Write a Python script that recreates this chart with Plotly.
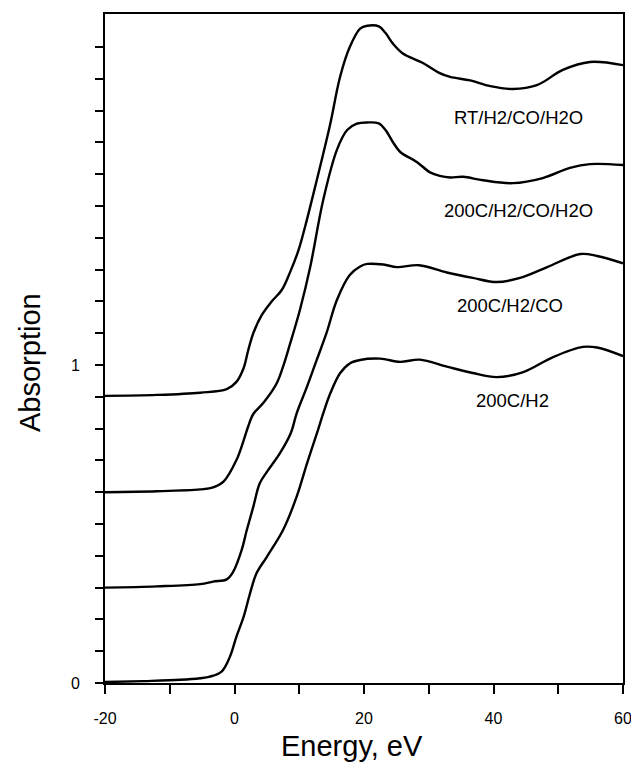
import plotly.graph_objects as go

# ---- data ----
energy_rt = [-20, -12, -5.3, -1.2, 0.3, 1.4, 2.1, 2.9, 4.2, 5.7, 7.3, 8.6, 9.9, 10.9, 11.9, 14.7,
             16.3, 17.8, 19.4, 20.5, 22.3, 23.3, 24.5, 26.0, 29.1, 31.7, 33.3, 36.4, 39.5, 43.0, 46.7,
             50.7, 54.9, 60]
abs_rt = [0.903, 0.906, 0.913, 0.924, 0.947, 0.99, 1.045, 1.10, 1.157, 1.199, 1.236, 1.293, 1.362, 1.435,
          1.515, 1.75, 1.906, 2.0, 2.058, 2.067, 2.065, 2.045, 2.010, 1.98, 1.95, 1.918, 1.906, 1.895,
          1.877, 1.868, 1.88, 1.928, 1.953, 1.943]

energy_200_h2_co_h2o = [-20, -12, -5.3, -3.3, -1.7, 0.3, 1.6, 2.1, 2.9, 4.5, 6.5, 7.5, 8.6, 10.1, 11.7,
                        13.7, 15.8, 17.4, 18.9, 20.5, 22.3, 23.3, 24.5, 25.6, 28.2, 30.2, 31.7, 33.3,
                        35.3, 38.4, 43.0, 47.6, 51.8, 54.9, 60]
abs_200_h2_co_h2o = [0.600, 0.603, 0.609, 0.615, 0.633, 0.701, 0.775, 0.806, 0.846, 0.882, 0.942, 0.995,
                     1.068, 1.173, 1.309, 1.519, 1.676, 1.739, 1.759, 1.763, 1.760, 1.740, 1.700, 1.670,
                     1.638, 1.606, 1.595, 1.590, 1.592, 1.581, 1.572, 1.588, 1.62, 1.632, 1.629]

energy_200_h2_co = [-20, -12, -5.3, -3.3, -1.2, -0.2, 1.1, 1.9, 2.9, 3.9, 5.0, 7.0, 8.7, 9.6, 11.2, 12.7,
                    14.2, 15.8, 17.8, 19.4, 20.5, 23.0, 25.1, 28.5, 32.8, 36.8, 40.5, 44.1, 48.3, 53.4,
                    56.0, 60]
abs_200_h2_co = [0.300, 0.304, 0.311, 0.319, 0.326, 0.350, 0.418, 0.481, 0.554, 0.628, 0.664, 0.722, 0.786,
                 0.848, 0.932, 1.016, 1.100, 1.204, 1.283, 1.310, 1.318, 1.316, 1.308, 1.314, 1.291, 1.274,
                 1.261, 1.274, 1.308, 1.349, 1.343, 1.32]

energy_200_h2 = [-20, -14, -8.4, -5.3, -3.8, -2.0, -0.7, 0.3, 1.4, 2.4, 3.4, 5.0, 7.5, 9.6, 11.2, 12.9,
                 13.7, 14.8, 16.3, 17.8, 19.4, 22.5, 25.6, 28.6, 32.8, 36.8, 40.5, 44.6, 49.2, 53.8, 56.0,
                 60]
abs_200_h2 = [0.003, 0.006, 0.010, 0.015, 0.020, 0.036, 0.083, 0.146, 0.208, 0.282, 0.345, 0.397, 0.481,
              0.586, 0.691, 0.796, 0.848, 0.911, 0.974, 1.005, 1.016, 1.020, 1.010, 1.017, 0.995, 0.975,
              0.962, 0.978, 1.025, 1.057, 1.055, 1.028]

series_names = ["RT/H2/CO/H2O", "200C/H2/CO/H2O", "200C/H2/CO", "200C/H2"]
series_x = [energy_rt, energy_200_h2_co_h2o, energy_200_h2_co, energy_200_h2]
series_y = [abs_rt, abs_200_h2_co_h2o, abs_200_h2_co, abs_200_h2]

label_x = [43.8, 43.8, 42.5, 42.9]
label_y = [1.777, 1.487, 1.186, 0.89]

x_title = "Energy, eV"
y_title = "Absorption"

x_tickvals = [-20, -10, 0, 10, 20, 30, 40, 50, 60]
x_ticktext = ["-20", "", "0", "", "20", "", "40", "", "60"]
y_tickvals = [round(i * 0.1, 1) for i in range(21)]
y_ticktext = ["0" if v == 0 else ("1" if v == 1.0 else "") for v in y_tickvals]

FONT = "Liberation Sans, Arial, Helvetica, sans-serif"

fig = go.Figure()
for name, xs, ys in zip(series_names, series_x, series_y):
    fig.add_trace(go.Scatter(x=xs, y=ys, mode="lines", name=name,
                             line=dict(color="black", width=2.4, shape="spline", smoothing=1.0),
                             showlegend=False, hoverinfo="skip"))

for name, lx, ly in zip(series_names, label_x, label_y):
    fig.add_annotation(x=lx, y=ly, text=name, showarrow=False,
                       font=dict(family=FONT, size=18.5, color="black"))

# axis titles placed as annotations to match the reference's offsets
fig.add_annotation(xref="paper", yref="paper", x=-0.1448, y=0.4798, text=y_title,
                   textangle=-90, showarrow=False, xanchor="center", yanchor="middle",
                   font=dict(family=FONT, size=29, color="black"))
fig.add_annotation(xref="paper", yref="paper", x=0.4768, y=-0.094, text=x_title,
                   showarrow=False, xanchor="center", yanchor="middle",
                   font=dict(family=FONT, size=29, color="black"))

fig.update_layout(
    width=631, height=762,
    margin=dict(l=105, r=8, t=14, b=79),
    paper_bgcolor="white", plot_bgcolor="white",
    font=dict(family=FONT, color="black"),
    xaxis=dict(range=[-20, 60], showline=True, linecolor="black", linewidth=2, mirror=True,
               ticks="outside", ticklen=9, tickwidth=2, tickcolor="black",
               tickvals=x_tickvals, ticktext=x_ticktext, tickfont=dict(size=16),
               ticklabelstandoff=11, automargin=False, ticklabeloverflow="allow",
               showgrid=False, zeroline=False),
    yaxis=dict(range=[0, 2.104], showline=True, linecolor="black", linewidth=2, mirror=True,
               ticks="outside", ticklen=8, tickwidth=2, tickcolor="black",
               tickvals=y_tickvals, ticktext=y_ticktext, tickfont=dict(size=16),
               ticklabelstandoff=12, automargin=False, ticklabeloverflow="allow",
               showgrid=False, zeroline=False),
)

fig.write_html("out.html")
